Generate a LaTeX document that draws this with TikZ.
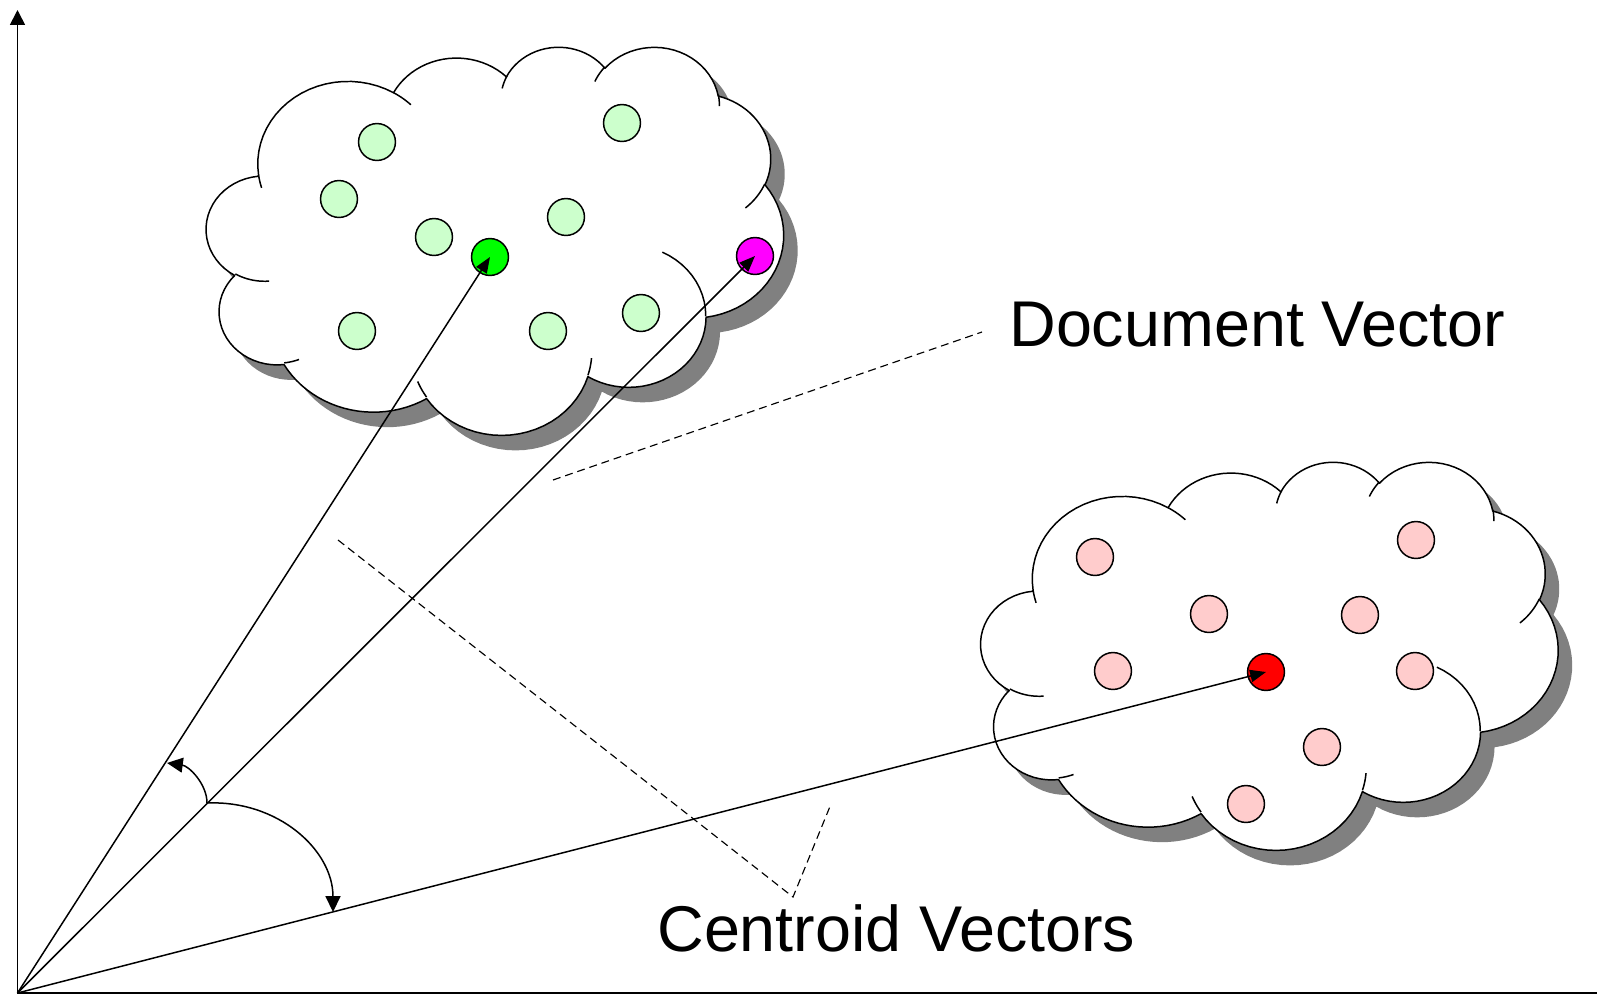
\documentclass[tikz,border=0pt]{standalone}
\usepackage{fontspec}
\setmainfont{Liberation Sans}
\usetikzlibrary{arrows.meta}
\definecolor{lgreen}{HTML}{CCFFCC}
\definecolor{lpink}{HTML}{FFCCCC}
\definecolor{shadowgray}{HTML}{808080}
\definecolor{dotgreen}{HTML}{00FF00}
\definecolor{dotmagenta}{HTML}{FF00FF}
\definecolor{dotred}{HTML}{FF0000}

% Office-style cloud outline, built from elliptical arcs (units: 1/4320 of the box)
\newcommand\cldBegin[2]{\xdef\cldX{#1}\xdef\cldY{#2}\xdef\cldPath{(#1,#2)}\gdef\cldStubs{}}
\newcommand\cldArc[4]{%
  \pgfmathsetmacro\cldA{atan2((#1)*sin(#3),(#2)*cos(#3))}%
  \pgfmathsetmacro\cldE{(#3)+(#4)}%
  \pgfmathsetmacro\cldB{atan2((#1)*sin(\cldE),(#2)*cos(\cldE))}%
  \pgfmathsetmacro\cldB{\cldB+360*ceil((\cldA-\cldB)/360)}%
  \pgfmathsetmacro\cldCX{\cldX-(#1)*cos(\cldA)}%
  \pgfmathsetmacro\cldCY{\cldY-(#2)*sin(\cldA)}%
  \pgfmathsetmacro\cldNX{\cldCX+(#1)*cos(\cldB)}%
  \pgfmathsetmacro\cldNY{\cldCY+(#2)*sin(\cldB)}%
  \xdef\cldX{\cldNX}\xdef\cldY{\cldNY}%
  \xdef\cldPath{\unexpanded\expandafter{\cldPath} -- plot[domain=\cldA:\cldB,samples=24] ({\cldCX+(#1)*cos(\noexpand\x)},{\cldCY+(#2)*sin(\noexpand\x)})}%
}
\newcommand\cldStub[6]{%
  \pgfmathsetmacro\cldA{atan2((#3)*sin(#5),(#4)*cos(#5))}%
  \pgfmathsetmacro\cldE{(#5)+(#6)}%
  \pgfmathsetmacro\cldB{atan2((#3)*sin(\cldE),(#4)*cos(\cldE))}%
  \pgfmathsetmacro\cldB{\cldB+360*ceil((\cldA-\cldB)/360)}%
  \pgfmathsetmacro\cldCX{#1-(#3)*cos(\cldA)}%
  \pgfmathsetmacro\cldCY{#2-(#4)*sin(\cldA)}%
  \xdef\cldStubs{\unexpanded\expandafter{\cldStubs} plot[domain=\cldA:\cldB,samples=12] ({\cldCX+(#3)*cos(\noexpand\x)},{\cldCY+(#4)*sin(\noexpand\x)})}%
}
\newcommand\cloudShape[4]{%
  \begin{scope}[shift={(#1+14,#2+15)},xscale=0.13356,yscale=0.08981]
    \fill[shadowgray] #3 -- cycle;
  \end{scope}
  \begin{scope}[shift={(#1,#2)},xscale=0.13356,yscale=0.08981]
    \filldraw[fill=white,draw=black,line width=0.85pt,line join=round] #3 -- cycle;
    \draw[line width=0.85pt] #4;
  \end{scope}}

\begin{document}
\begin{tikzpicture}[x=0.02cm,y=-0.02cm,
  dot/.style={circle,draw=black,line width=0.85pt,inner sep=0pt,minimum size=21pt},
  vec/.style={line width=0.85pt,-{Triangle[length=9pt,width=7pt]}},
  axisline/.style={line width=1pt,-{Triangle[length=8.5pt,width=8.5pt]}},
  turn/.style={line width=0.85pt,-{Triangle[length=9pt,width=8.5pt]}},
  leader/.style={line width=0.65pt,dash pattern=on 4.5pt off 2.8pt},
  lbl/.style={inner sep=0pt,font=\fontsize{36.8}{44}\selectfont}]
\useasboundingbox (0,0) rectangle (1597,998);
\cldBegin{390}{1437}%
\cldArc{675.3}{919.0}{-190.4875}{123.7805}%
\cldArc{533.3}{726.7}{-144.1024}{89.9452}%
\cldArc{436.5}{594.5}{-145.8079}{99.7230}%
\cldArc{485.7}{659.5}{-130.9861}{117.2417}%
\cldArc{533.3}{727.3}{-78.7089}{109.0269}%
\cldArc{677.5}{922.0}{-46.2673}{130.2690}%
\cldArc{578.5}{786.7}{0.6250}{114.0333}%
\cldArc{675.2}{921.5}{22.4516}{115.1726}%
\cldArc{772.0}{1054.3}{66.2426}{75.7110}%
\cldArc{436.0}{591.8}{-274.9421}{146.7356}%
\cldArc{434.5}{594.5}{-246.8285}{152.5189}%
\cldStub{469.3}{2617.7}{434.5}{594.5}{86.742}{26.4295}%
\cldStub{692.8}{3489.9}{436.0}{591.8}{73.6105}{11.4475}%
\cldStub{1647.8}{3909.0}{675.2}{921.5}{137.6242}{14.0811}%
\cldStub{2882.7}{3475.1}{675.2}{921.5}{6.4533}{15.9984}%
\cldStub{3412.9}{2295.4}{578.5}{786.7}{-70.2924}{70.9174}%
\cldStub{4179.8}{1535.4}{533.3}{727.3}{30.3180}{27.7515}%
\cldStub{3832.4}{542.6}{485.7}{659.5}{-13.7443}{14.8589}%
\cldStub{2907.8}{395.2}{485.7}{659.5}{-149.1815}{18.1954}%
\cldStub{2214.1}{472.0}{436.5}{594.5}{-163.4943}{17.6864}%
\cldStub{1400.0}{519.2}{675.3}{919.0}{-66.7070}{12.3194}%
\cldStub{412.7}{1578.9}{675.3}{919.0}{157.6544}{11.8539}%
\edef\drawClouds{%
  \noexpand\cloudShape{206.5}{46}{\unexpanded\expandafter{\cldPath}}{\unexpanded\expandafter{\cldStubs}}%
  \noexpand\cloudShape{981}{461}{\unexpanded\expandafter{\cldPath}}{\unexpanded\expandafter{\cldStubs}}%
}\drawClouds

% axes
\coordinate (O) at (17.5,993);
\coordinate (ytop) at (17.5,10);
\coordinate (xend) at (1597,993);
\draw[axisline] (xend) -- (O) -- (ytop);

% document cluster
\node[dot,fill=lgreen] (g1) at (377,142) {};
\node[dot,fill=lgreen] (g2) at (339,199) {};
\node[dot,fill=lgreen] (g3) at (434,237) {};
\node[dot,fill=lgreen] (g4) at (622,123) {};
\node[dot,fill=lgreen] (g5) at (566,217) {};
\node[dot,fill=lgreen] (g6) at (357,331) {};
\node[dot,fill=lgreen] (g7) at (548,331) {};
\node[dot,fill=lgreen] (g8) at (641,313) {};
\node[dot,fill=dotgreen] (gc) at (490,257) {};
\node[dot,fill=dotmagenta] (dv) at (755,256) {};

% red cluster
\node[dot,fill=lpink] (p1) at (1095,557) {};
\node[dot,fill=lpink] (p2) at (1416,540) {};
\node[dot,fill=lpink] (p3) at (1209,614) {};
\node[dot,fill=lpink] (p4) at (1360,615) {};
\node[dot,fill=lpink] (p5) at (1113,671) {};
\node[dot,fill=lpink] (p6) at (1415,671) {};
\node[dot,fill=lpink] (p7) at (1322,747) {};
\node[dot,fill=lpink] (p8) at (1246,804) {};
\node[dot,fill=dotred] (rc) at (1266,672) {};

% vectors
\draw[vec] (O) -- (gc.center);
\draw[vec] (O) -- (dv.center);
\draw[vec] (O) -- (rc.center);

% angle arrows
\coordinate (s0) at (207,803);
\coordinate (s1) at (167,763);
\coordinate (t1) at (333,912);
\draw[turn] (s0) .. controls (207,784) and (189,766) .. (s1);
\draw[turn] (s0) .. controls (278,800) and (333,850) .. (t1);

% labels and leaders
\node[lbl,anchor=base west] (docv) at (1009,346.7) {Document Vector};
\node[lbl,anchor=base west] (cenv) at (657,951.7) {Centroid Vectors};
\coordinate (d1a) at (553,480);
\coordinate (d1b) at (982,332);
\draw[leader] (d1a) -- (d1b);
\coordinate (c1) at (338,540);
\coordinate (c2) at (793,897);
\coordinate (c3) at (831,804);
\draw[leader] (c1) -- (c2) -- (c3);
\end{tikzpicture}
\end{document}
